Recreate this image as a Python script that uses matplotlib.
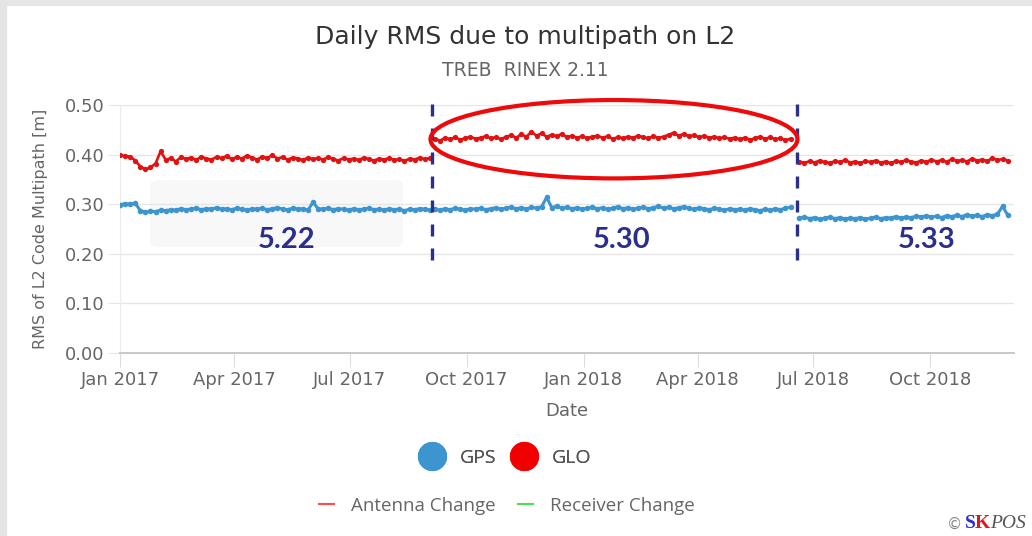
"""Daily RMS due to multipath on L2 - station TREB"""

import matplotlib
matplotlib.use("Agg")
import matplotlib.pyplot as plt
import matplotlib.dates as mdates
from matplotlib.lines import Line2D
from matplotlib.patches import Ellipse, FancyBboxPatch, Rectangle
import pandas as pd

###################################################################################################
# Data (one value every 4 days)
###################################################################################################

SEG_STARTS = ["2017-01-01", "2017-09-06", "2018-06-20"]
STEP = "4D"

gps_1 = [0.299, 0.301, 0.300, 0.302, 0.287, 0.284, 0.286, 0.285, 0.288, 0.287,
         0.289, 0.288, 0.291, 0.289, 0.290, 0.292, 0.289, 0.291, 0.290, 0.293,
         0.290, 0.291, 0.289, 0.292, 0.290, 0.288, 0.291, 0.290, 0.292, 0.289,
         0.291, 0.293, 0.290, 0.289, 0.292, 0.290, 0.291, 0.288, 0.304, 0.291,
         0.290, 0.292, 0.289, 0.291, 0.290, 0.288, 0.291, 0.289, 0.290, 0.292,
         0.289, 0.290, 0.288, 0.291, 0.289, 0.290, 0.287, 0.290, 0.289, 0.291,
         0.290, 0.288]
gps_2 = [0.290, 0.288, 0.291, 0.289, 0.292, 0.290, 0.288, 0.291, 0.290, 0.292,
         0.289, 0.291, 0.293, 0.290, 0.292, 0.294, 0.291, 0.293, 0.290, 0.294,
         0.292, 0.295, 0.314, 0.293, 0.296, 0.292, 0.294, 0.291, 0.293, 0.290,
         0.292, 0.294, 0.291, 0.293, 0.290, 0.292, 0.295, 0.291, 0.293, 0.290,
         0.292, 0.294, 0.291, 0.293, 0.296, 0.292, 0.294, 0.291, 0.293, 0.295,
         0.292, 0.290, 0.293, 0.291, 0.289, 0.292, 0.290, 0.288, 0.291, 0.289,
         0.290, 0.288, 0.291, 0.289, 0.287, 0.290, 0.288, 0.291, 0.289, 0.292,
         0.294]
gps_3 = [0.272, 0.274, 0.271, 0.273, 0.270, 0.272, 0.274, 0.271, 0.273, 0.270,
         0.272, 0.271, 0.273, 0.270, 0.272, 0.274, 0.271, 0.273, 0.272, 0.275,
         0.272, 0.274, 0.273, 0.276, 0.274, 0.277, 0.274, 0.276, 0.273, 0.277,
         0.275, 0.278, 0.275, 0.279, 0.276, 0.278, 0.275, 0.279, 0.277, 0.280,
         0.296, 0.278]

glo_1 = [0.399, 0.397, 0.396, 0.388, 0.376, 0.370, 0.374, 0.382, 0.407, 0.389,
         0.393, 0.386, 0.395, 0.391, 0.394, 0.389, 0.396, 0.392, 0.390, 0.395,
         0.393, 0.397, 0.391, 0.395, 0.392, 0.398, 0.394, 0.390, 0.396, 0.393,
         0.399, 0.392, 0.395, 0.390, 0.394, 0.392, 0.389, 0.394, 0.391, 0.393,
         0.390, 0.395, 0.391, 0.388, 0.393, 0.390, 0.392, 0.389, 0.394, 0.391,
         0.388, 0.392, 0.390, 0.393, 0.389, 0.391, 0.387, 0.392, 0.390, 0.394,
         0.391, 0.393]
glo_2 = [0.432, 0.428, 0.434, 0.431, 0.435, 0.430, 0.433, 0.436, 0.432, 0.434,
         0.437, 0.433, 0.435, 0.431, 0.436, 0.439, 0.434, 0.441, 0.436, 0.446,
         0.438, 0.443, 0.436, 0.440, 0.437, 0.442, 0.435, 0.438, 0.434, 0.437,
         0.433, 0.436, 0.438, 0.434, 0.437, 0.432, 0.435, 0.433, 0.436, 0.434,
         0.438, 0.435, 0.433, 0.437, 0.434, 0.436, 0.440, 0.444, 0.438, 0.442,
         0.437, 0.439, 0.435, 0.438, 0.434, 0.436, 0.433, 0.435, 0.432, 0.434,
         0.431, 0.434, 0.430, 0.433, 0.436, 0.432, 0.435, 0.431, 0.433, 0.429,
         0.432]
glo_3 = [0.386, 0.383, 0.387, 0.384, 0.388, 0.385, 0.383, 0.387, 0.385, 0.389,
         0.384, 0.386, 0.383, 0.387, 0.385, 0.388, 0.384, 0.386, 0.383, 0.387,
         0.385, 0.389, 0.386, 0.384, 0.388, 0.385, 0.390, 0.386, 0.389, 0.385,
         0.391, 0.387, 0.389, 0.386, 0.392, 0.388, 0.390, 0.387, 0.393, 0.389,
         0.391, 0.388]

# firmware versions between the antenna changes
CHANGE_DATES = ["2017-09-04", "2018-06-18"]
VERSIONS = ["5.22", "5.30", "5.33"]
VERSION_DATES = ["2017-05-12", "2018-01-31", "2018-09-28"]

X_TICKS = ["2017-01-01", "2017-04-01", "2017-07-01", "2017-10-01",
           "2018-01-01", "2018-04-01", "2018-07-01", "2018-10-01"]
Y_TICKS = [0.0, 0.1, 0.2, 0.3, 0.4, 0.5]

GPS_COLOR = "#3d95cf"
GLO_COLOR = "#e31212"
NAVY = "#2b2f8c"

###################################################################################################
# Figure
###################################################################################################

plt.rcParams['font.family'] = ['DejaVu Sans']
fig = plt.figure(figsize=(10.32, 5.36), dpi=100)
ax = fig.add_axes([120 / 1032, 1 - 353 / 536, (1014 - 120) / 1032, (353 - 105) / 536])

# screenshot frame
fig.patches.append(Rectangle((0, 1 - 5 / 536), 1, 5 / 536, transform=fig.transFigure,
                             color="#e6e6e6", zorder=0))
fig.patches.append(Rectangle((0, 0), 6 / 1032, 1, transform=fig.transFigure,
                             color="#e4e4e4", zorder=0))

# faint box behind the first segment
ax.add_patch(FancyBboxPatch((150 / 1032, 1 - 247 / 536), 253 / 1032, 67 / 536,
                            boxstyle="round,pad=0,rounding_size=0.01",
                            transform=fig.transFigure, facecolor="#f8f8f8",
                            edgecolor="none", zorder=0.5))


def segment(start, values):
    """Return the dates for one segment of values."""
    return pd.date_range(start, periods=len(values), freq=STEP)


for start, gps, glo in zip(SEG_STARTS, [gps_1, gps_2, gps_3], [glo_1, glo_2, glo_3]):
    dates = segment(start, gps)
    ax.plot(dates, gps, color=GPS_COLOR, lw=2.2, marker="o", ms=4.0, mew=0, zorder=3)
    ax.plot(dates, glo, color=GLO_COLOR, lw=1.9, marker="o", ms=3.8, mew=0, zorder=3)

# dashed change lines
for d in CHANGE_DATES:
    ax.plot([pd.Timestamp(d)] * 2, [0.187, 0.512], color=NAVY, lw=2.4,
            linestyle=(0, (3.6, 3.6)), clip_on=False, zorder=5)

# version labels
for d, txt in zip(VERSION_DATES, VERSIONS):
    ax.text(pd.Timestamp(d), 0.228, txt, color=NAVY, fontsize=21, fontweight="bold",
            family="Lato", ha="center", va="center", zorder=6)

# red ellipse around the 5.30 GLONASS segment
ell_x = mdates.date2num(pd.Timestamp("2018-01-25"))
ax.add_patch(Ellipse((ell_x, 0.431), 289, 0.158, fill=False, edgecolor="#ee0a0a",
                     lw=3.0, clip_on=False, zorder=6))

# axes styling
ax.set_xlim(pd.Timestamp("2017-01-01"), pd.Timestamp("2018-12-06"))
ax.set_ylim(0, 0.5)
ax.set_yticks(Y_TICKS)
ax.set_yticklabels([f"{v:.2f}" for v in Y_TICKS])
ax.set_xticks([pd.Timestamp(t) for t in X_TICKS])
ax.xaxis.set_major_formatter(mdates.DateFormatter("%b %Y"))
ax.grid(axis="y", color="#e6e6e6", lw=1.0)
ax.set_axisbelow(True)
for side in ["top", "right"]:
    ax.spines[side].set_visible(False)
ax.spines["left"].set_color("#ececec")
ax.spines["bottom"].set_color("#c8c8c8")
ax.spines["bottom"].set_linewidth(1.4)
ax.tick_params(axis="x", length=10, color="#dddddd", labelsize=13, labelcolor="#666666",
               pad=3)
ax.tick_params(axis="y", length=9, color="#e6e6e6", labelsize=13, labelcolor="#666666",
               pad=2)
ax.set_xlabel("Date", fontsize=13, color="#666666", labelpad=9)
ax.set_ylabel("RMS of L2 Code Multipath [m]", fontsize=11.5, color="#666666", labelpad=12)

fig.text(0.509, 0.931, "Daily RMS due to multipath on L2", fontsize=18, color="#333333",
         ha="center", va="center")
fig.text(0.509, 0.869, "TREB  RINEX 2.11", fontsize=13.5, color="#666666",
         ha="center", va="center")

# legends
sat_handles = [Line2D([], [], ls="", marker="o", ms=20, color=GPS_COLOR),
               Line2D([], [], ls="", marker="o", ms=20, color="#f20000")]
leg1 = fig.legend(sat_handles, ["GPS", "GLO"], loc="center", ncol=2,
                  bbox_to_anchor=(0.490, 1 - 458 / 536), frameon=False,
                  prop={"family": "Open Sans", "size": 14}, labelcolor="#555555",
                  handletextpad=0.8, columnspacing=0.85, handlelength=1.2)
change_handles = [Line2D([], [], color="#ff4d4d", lw=1.5),
                  Line2D([], [], color="#4ddf4d", lw=1.5)]
fig.legend(change_handles, ["Antenna Change", "Receiver Change"], loc="center", ncol=2,
           bbox_to_anchor=(0.491, 1 - 506 / 536), frameon=False,
           prop={"family": "Open Sans", "size": 13.5}, labelcolor="#666666",
           handletextpad=0.9, columnspacing=1.2, handlelength=0.8)
fig.add_artist(leg1)

# copyright
fig.text(947 / 1032, 1 - 524 / 536, "©", fontsize=11, color="#888888", ha="left",
         va="center")
fig.text(965 / 1032, 1 - 524 / 536, "S", fontsize=14, color="#2a2ae0", fontweight="bold",
         family="Liberation Serif", ha="left", va="center")
fig.text(975 / 1032, 1 - 524 / 536, "K", fontsize=14, color="#e01818", fontweight="bold",
         family="Liberation Serif", ha="left", va="center")
fig.text(990 / 1032, 1 - 524 / 536, "POS", fontsize=14, color="#555555", style="italic",
         family="Liberation Serif", ha="left", va="center")

fig.savefig("out.png", dpi=100)
